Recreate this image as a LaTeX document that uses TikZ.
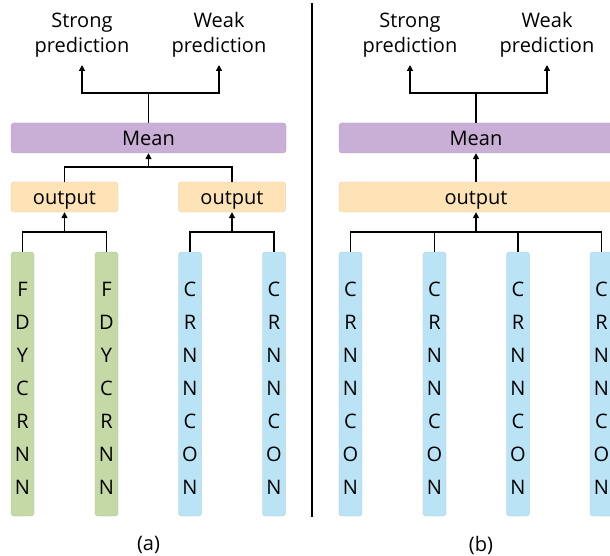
\documentclass[tikz,border=0pt]{standalone}
\usepackage{fontspec}
\setmainfont{Open Sans}
\usetikzlibrary{arrows.meta}
\definecolor{meanc}{HTML}{C9AFD5}
\definecolor{outc}{HTML}{FDE3B6}
\definecolor{grn}{HTML}{C5D9A7}
\definecolor{blu}{HTML}{BBE3F6}
\begin{document}
\begin{tikzpicture}[x=1pt,y=-1pt,
  box/.style={rounded corners=3pt, inner sep=0pt, font=\fontsize{20}{24}\selectfont,
    text height=15pt, text depth=0pt, minimum height=30pt},
  meanbox/.style={box, fill=meanc, draw=meanc!88!black, line width=0.3pt, minimum width=275pt},
  outbox/.style={box, fill=outc, draw=outc!88!black, line width=0.3pt, minimum width=107pt},
  colbox/.style={rounded corners=3pt, inner sep=0pt, minimum width=23pt, minimum height=264pt, line width=0.3pt},
  gcol/.style={colbox, fill=grn, draw=grn!88!black},
  bcol/.style={colbox, fill=blu, draw=blu!88!black},
  letters/.style={font=\fontsize{20}{33}\selectfont, align=center, inner sep=0pt, text depth=0pt, anchor=south},
  pred/.style={font=\fontsize{20}{25}\selectfont, align=center, inner xsep=0pt, inner ysep=7pt, anchor=south},
  captext/.style={font=\fontsize{20}{24}\selectfont, inner sep=0pt},
  conn/.style={line width=1.4pt},
  arr/.style={conn, -{Triangle[length=6pt,width=6pt]}}
]
\useasboundingbox (0,0) rectangle (610,556);
\clip (0,0) rectangle (610,556);

% ---------- (a) ----------
\node[pred] (sa) at (82,65) {Strong\\prediction};
\node[pred] (wa) at (219,65) {Weak\\prediction};
\node[meanbox] (ma) at (148.5,138) {Mean};
\node[outbox] (oa1) at (64.5,197) {output};
\node[outbox] (oa2) at (232,197) {output};
\node[gcol] (ca1) at (22.5,384) {};
\node[gcol] (ca2) at (106.5,384) {};
\node[bcol] (ca3) at (190,384) {};
\node[bcol] (ca4) at (274,384) {};
\node[letters] (la1) at (22.5,494.5) {F\\D\\Y\\C\\R\\N\\N};
\node[letters] (la2) at (106.5,494.5) {F\\D\\Y\\C\\R\\N\\N};
\node[letters] (la3) at (190,494.5) {C\\R\\N\\N\\C\\O\\N};
\node[letters] (la4) at (274,494.5) {C\\R\\N\\N\\C\\O\\N};
\node[captext] (capa) at (148.5,545) {(a)};

\coordinate (ja) at (148.5,93);
\coordinate (ka) at (148.5,167);
\coordinate (pa1) at (64.5,232);
\coordinate (pa2) at (232,232);
\draw[conn] (ma.north) -- (ja);
\draw[arr] (ja) -| (sa.south);
\draw[arr] (ja) -| (wa.south);
\draw[conn] (oa1.north) |- (ka) -| (oa2.north);
\draw[arr] (ka) -- (ma.south);
\draw[conn] (ca1.north) |- (pa1) -| (ca2.north);
\draw[arr] (pa1) -- (oa1.south);
\draw[conn] (ca3.north) |- (pa2) -| (ca4.north);
\draw[arr] (pa2) -- (oa2.south);

% ---------- divider ----------
\coordinate (d1) at (312,3);
\coordinate (d2) at (312,517);
\draw[conn] (d1) -- (d2);

% ---------- (b) ----------
\node[pred] (sb) at (410,65) {Strong\\prediction};
\node[pred] (wb) at (547,65) {Weak\\prediction};
\node[meanbox, minimum width=274pt] (mb) at (476,138) {Mean};
\node[outbox, minimum width=274pt] (ob) at (476,197) {output};
\node[bcol] (cb1) at (350.5,384) {};
\node[bcol] (cb2) at (434.5,384) {};
\node[bcol] (cb3) at (518,384) {};
\node[bcol] (cb4) at (601.5,384) {};
\node[letters] (lb1) at (350.5,494.5) {C\\R\\N\\N\\C\\O\\N};
\node[letters] (lb2) at (434.5,494.5) {C\\R\\N\\N\\C\\O\\N};
\node[letters] (lb3) at (518,494.5) {C\\R\\N\\N\\C\\O\\N};
\node[letters] (lb4) at (601.5,494.5) {C\\R\\N\\N\\C\\O\\N};
\node[captext] (capb) at (481,545) {(b)};

\coordinate (jb) at (476,93);
\coordinate (pb) at (476,232);
\draw[conn] (mb.north) -- (jb);
\draw[arr] (jb) -| (sb.south);
\draw[arr] (jb) -| (wb.south);
\draw[arr] (ob.north) -- (mb.south);
\draw[conn] (cb1.north) |- (pb) -| (cb4.north);
\draw[conn] (cb2.north) -- (cb2.north |- pb);
\draw[conn] (cb3.north) -- (cb3.north |- pb);
\draw[arr] (pb) -- (ob.south);
\end{tikzpicture}
\end{document}
